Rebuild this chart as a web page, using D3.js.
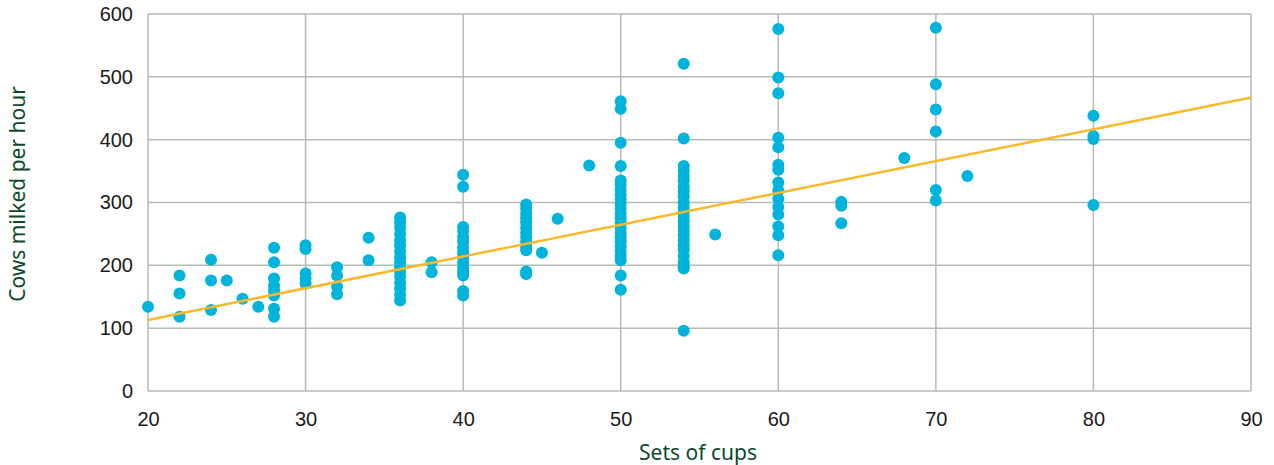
<!DOCTYPE html>
<html>
<head>
<meta charset="utf-8">
<script src="https://cdn.jsdelivr.net/npm/d3@7/dist/d3.min.js"></script>
<style>
  body { margin: 0; background: #fff; }
  svg { display: block; font-family: "Noto Sans", "DejaVu Sans", sans-serif; }
</style>
</head>
<body>
<svg id="chart" width="1274" height="465"></svg>
<script>
// sets of cups (x) -> cows milked per hour (y), one array per column of dots
const cupSets = [20, 22, 24, 25, 26, 27, 28, 30, 32, 34, 36, 38, 40, 44, 45, 46, 48, 50, 54, 56, 60, 64, 68, 70, 72, 80]
const cowsPerHour = [
  [134],
  [184, 155, 118],
  [209, 176, 129],
  [176],
  [147],
  [134],
  [228, 205, 179, 168, 160, 152, 131, 118],
  [232, 226, 187, 179, 171],
  [197, 184, 166, 154],
  [244, 208],
  [276, 268, 260, 250, 240, 232, 222, 213, 205, 197, 190, 182, 172, 163, 153, 144],
  [205, 189],
  [344, 325, 261, 255, 245, 238, 228, 220, 212, 204, 196, 190, 184, 159, 152],
  [297, 290, 282, 275, 268, 260, 252, 245, 238, 230, 224, 190, 186],
  [220],
  [274],
  [359],
  [461, 449, 395, 358, 335, 328, 320, 312, 305, 298, 290, 282, 275, 268, 260, 252, 245, 238, 230, 222, 215, 208, 184, 161],
  [521, 402, 358, 350, 342, 335, 325, 318, 310, 300, 292, 285, 278, 270, 262, 255, 248, 240, 232, 225, 215, 205, 198, 195, 96],
  [249],
  [576, 499, 474, 403, 388, 360, 352, 332, 319, 306, 293, 281, 262, 248, 216],
  [301, 295, 267],
  [371],
  [578, 488, 448, 413, 320, 303],
  [342],
  [438, 406, 401, 296]
]
// trend line end points
const trendX = [20, 90]
const trendY = [113, 467]
const xTicks = [20, 30, 40, 50, 60, 70, 80, 90]
const yTicks = [0, 100, 200, 300, 400, 500, 600]

const margin = { top: 14, right: 23, bottom: 74, left: 148 }
const width = 1274, height = 465
const plotW = width - margin.left - margin.right
const plotH = height - margin.top - margin.bottom

const svg = d3.select("#chart")
const g = svg.append("g").attr("transform", `translate(${margin.left},${margin.top})`)

const x = d3.scaleLinear().domain([20, 90]).range([0, plotW])
const y = d3.scaleLinear().domain([0, 600]).range([plotH, 0])

const gridColor = "#b3bdb1"

// grid
g.append("g")
  .selectAll("line")
  .data(yTicks)
  .join("line")
  .attr("x1", 0).attr("x2", plotW)
  .attr("y1", d => y(d)).attr("y2", d => y(d))
  .attr("stroke", gridColor).attr("stroke-width", 1.5)
g.append("g")
  .selectAll("line")
  .data(xTicks)
  .join("line")
  .attr("y1", 0).attr("y2", plotH)
  .attr("x1", d => x(d)).attr("x2", d => x(d))
  .attr("stroke", gridColor).attr("stroke-width", 1.5)

// axes (labels only)
const axisX = g.append("g")
  .attr("transform", `translate(0,${plotH})`)
  .call(d3.axisBottom(x).tickValues(xTicks).tickSize(0).tickPadding(21))
axisX.select(".domain").remove()
const axisY = g.append("g")
  .call(d3.axisLeft(y).tickValues(yTicks).tickSize(0).tickPadding(15))
axisY.select(".domain").remove()
g.selectAll(".tick text")
  .style("font-size", "20px")
  .style("fill", "#1a1a1a")

// dots
const points = cupSets.flatMap((c, i) => cowsPerHour[i].map(v => ({ c: c, v: v })))
g.append("g")
  .selectAll("circle")
  .data(points)
  .join("circle")
  .attr("cx", d => x(d.c))
  .attr("cy", d => y(d.v))
  .attr("r", 6)
  .attr("fill", "#00b4dc")

// trend line
g.append("line")
  .attr("x1", x(trendX[0])).attr("y1", y(trendY[0]))
  .attr("x2", x(trendX[1])).attr("y2", y(trendY[1]))
  .attr("stroke", "#fbb829")
  .attr("stroke-width", 2.5)

// axis titles
svg.append("text")
  .attr("x", 698)
  .attr("y", 460)
  .attr("text-anchor", "middle")
  .style("font-size", "21px")
  .style("fill", "#0c4a2b")
  .text("Sets of cups")
svg.append("text")
  .attr("transform", "translate(25,194) rotate(-90)")
  .attr("text-anchor", "middle")
  .style("font-size", "21px")
  .style("fill", "#0c4a2b")
  .text("Cows milked per hour")
</script>
</body>
</html>
